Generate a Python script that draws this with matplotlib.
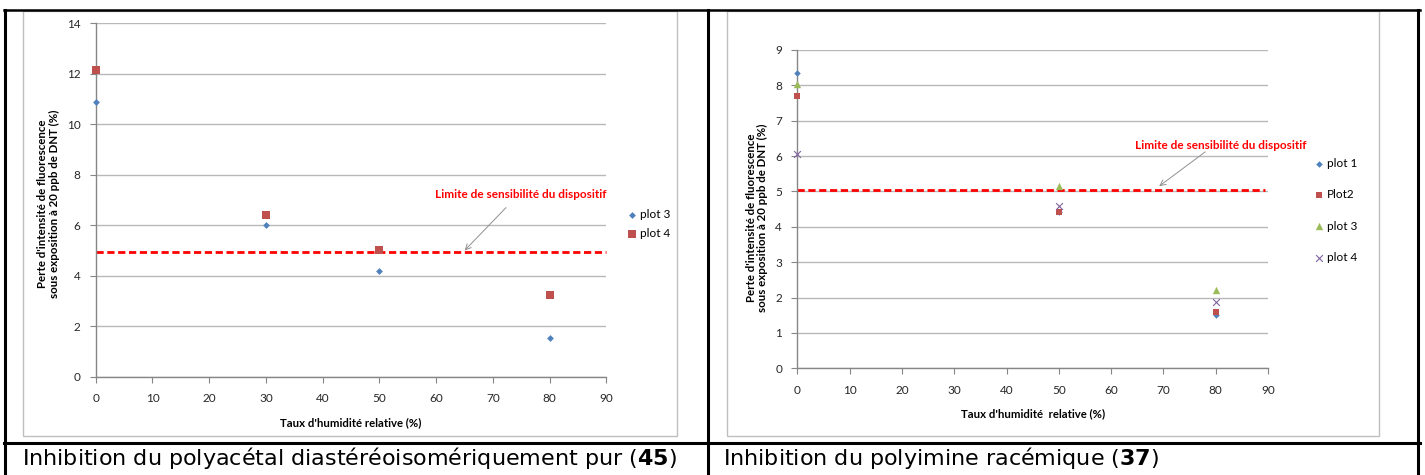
import matplotlib
matplotlib.use("Agg")
import matplotlib.pyplot as plt
from matplotlib.patches import Rectangle
from matplotlib.lines import Line2D

CAPFONT = 'DejaVu Sans'
plt.rcParams['mathtext.fontset'] = 'custom'
plt.rcParams['mathtext.rm'] = CAPFONT
plt.rcParams['mathtext.bf'] = CAPFONT + ':bold'

# ---------------- data ----------------
humidity_left = [0, 30, 50, 80]
left_plot3 = [10.9, 6.0, 4.17, 1.53]
left_plot4 = [12.15, 6.4, 5.0, 3.25]
left_limit_x = [0, 90]
left_limit_y = [4.95, 4.95]

humidity_right = [0, 50, 80]
right_plot1 = [8.35, 4.42, 1.51]
right_plot2 = [7.7, 4.42, 1.58]
right_plot3 = [8.03, 5.16, 2.2]
right_plot4 = [6.05, 4.58, 1.88]
right_limit_x = [0, 89.4]
right_limit_y = [5.03, 5.03]

left_yticks = [0, 2, 4, 6, 8, 10, 12, 14]
right_yticks = [0, 1, 2, 3, 4, 5, 6, 7, 8, 9]
xticks = [0, 10, 20, 30, 40, 50, 60, 70, 80, 90]

ylabel_left = "Perte d'intensité de fluorescence\nsous exposition à 20 ppb de DNT (%)"
ylabel_right = "Perte d'intensité de fluorescence\nsous exposition à 20 ppb de DNT (%)"
xlabel_left = "Taux d'humidité relative (%)"
xlabel_right = "Taux d'humidité  relative (%)"
limit_text = "Limite de sensibilité du dispositif"
caption_left = r"Inhibition du polyacétal diastéréoisomériquement pur ($\mathbf{45}$)"
caption_right = r"Inhibition du polyimine racémique ($\mathbf{37}$)"

# ---------------- figure ----------------
W, H = 1425, 475
fig = plt.figure(figsize=(W / 100, H / 100), dpi=100)
fig.patch.set_facecolor('white')

def fx(px):
    return px / W

def fy(py):
    return 1 - py / H

FONT = 'Lato'
TICKC = '#262626'
BLUE = '#4F81BD'
RED = '#C0504D'
GREEN = '#9BBB59'
PURPLE = '#8064A2'

# chart area frames (grey)
for (x0, x1) in [(23.3, 676.7), (726.7, 1379)]:
    fig.patches.append(Rectangle((fx(x0), fy(435.7)), fx(x1) - fx(x0), fy(10.7) - fy(435.7),
                                 transform=fig.transFigure, fill=False,
                                 edgecolor='#bfbfbf', lw=1.0, zorder=1))

# table borders (black)
def vline(x, y0, y1, lw=2.2):
    fig.lines.append(Line2D([fx(x), fx(x)], [fy(y0), fy(y1)], transform=fig.transFigure,
                            color='black', lw=lw, zorder=5))

def hline(y, x0, x1, lw=2.2):
    fig.lines.append(Line2D([fx(x0), fx(x1)], [fy(y), fy(y)], transform=fig.transFigure,
                            color='black', lw=lw, zorder=5))

vline(4.6, 9.5, 476)
vline(708, 9.5, 476)
vline(1418, 9.5, 476)
hline(10.2, 3.5, 1419.5, lw=1.8)
hline(443, 3.5, 1419.5)


def style_axes(ax, ymax, yticks):
    ax.set_xlim(0, 90)
    ax.set_ylim(0, ymax)
    ax.set_xticks(xticks)
    ax.set_yticks(yticks)
    ax.yaxis.grid(True, color='#b8b8b8', lw=1.0)
    ax.set_axisbelow(True)
    for s in ['top', 'right']:
        ax.spines[s].set_visible(False)
    for s in ['left', 'bottom']:
        ax.spines[s].set_color('#868686')
        ax.spines[s].set_linewidth(1.0)
    ax.tick_params(axis='both', direction='out', length=4, width=0.8, color='#868686',
                   labelsize=8.5, labelcolor=TICKC)
    ax.tick_params(axis='x', pad=8)
    ax.tick_params(axis='y', pad=7)
    for lab in ax.get_xticklabels() + ax.get_yticklabels():
        lab.set_fontfamily(FONT)
    ax.patch.set_alpha(0)


# ---------------- left chart ----------------
axL = fig.add_axes([fx(95.7), fy(376.7), fx(606.5) - fx(95.7), fy(23.3) - fy(376.7)])
style_axes(axL, 14, left_yticks)
axL.plot(left_limit_x, left_limit_y, color='#FF0000', lw=2.0, ls=(0, (2.6, 1.3)), zorder=2,
         clip_on=False)
sL3 = axL.scatter(humidity_left, left_plot3, marker='D', s=12, color=BLUE, zorder=3,
                  clip_on=False, linewidths=0)
sL4 = axL.scatter(humidity_left, left_plot4, marker='s', s=26, color=RED, zorder=4,
                  clip_on=False, linewidths=0)
axL.text(90, 7.2, limit_text, color='#FF0000', fontweight='bold', fontsize=8.5,
         family=FONT, ha='right', va='center')
axL.annotate('', xy=(65, 5.0), xytext=(72.3, 6.7),
             arrowprops=dict(arrowstyle='->', color='#909090', lw=0.7, shrinkA=0, shrinkB=0))
axL.set_xlabel(xlabel_left, fontsize=8.2, fontweight='bold', family=FONT, color='black',
               labelpad=9)
fig.text(fx(48.5), fy(204), ylabel_left, rotation=90, ha='center', va='center', fontsize=8.3,
         fontweight='bold', family=FONT, linespacing=1.1, multialignment='center')
fig.legend(handles=[sL3, sL4], labels=['plot 3', 'plot 4'],
           loc='center left', bbox_to_anchor=(fx(627), fy(224)),
           frameon=False, handlelength=0.9, handletextpad=0.2,
           labelspacing=0.72, borderpad=0, borderaxespad=0,
           prop={'family': FONT, 'size': 8.5})

# ---------------- right chart ----------------
axR = fig.add_axes([fx(797.3), fy(368.3), fx(1268) - fx(797.3), fy(50) - fy(368.3)])
style_axes(axR, 9, right_yticks)
axR.plot(right_limit_x, right_limit_y, color='#FF0000', lw=2.0, ls=(0, (2.6, 1.3)), zorder=2,
         clip_on=False)
h1 = axR.scatter(humidity_right, right_plot1, marker='D', s=11, color=BLUE, zorder=3,
                 clip_on=False, linewidths=0)
h2 = axR.scatter(humidity_right, right_plot2, marker='s', s=25, color=RED, zorder=4,
                 clip_on=False, linewidths=0)
h3 = axR.scatter(humidity_right, right_plot3, marker='^', s=28, color=GREEN, zorder=5,
                 clip_on=False, linewidths=0)
h4 = axR.scatter(humidity_right, right_plot4, marker='x', s=24, color=PURPLE, zorder=6,
                 clip_on=False, linewidths=0.8)
axR.text(97.4, 6.29, limit_text, color='#FF0000', fontweight='bold', fontsize=8.5,
         family=FONT, ha='right', va='center')
axR.annotate('', xy=(69.2, 5.15), xytext=(78.0, 6.12),
             arrowprops=dict(arrowstyle='->', color='#909090', lw=0.7, shrinkA=0, shrinkB=0))
axR.set_xlabel(xlabel_right, fontsize=8.2, fontweight='bold', family=FONT, color='black',
               labelpad=9)
fig.text(fx(757), fy(218), ylabel_right, rotation=90, ha='center', va='center', fontsize=8.3,
         fontweight='bold', family=FONT, linespacing=1.1, multialignment='center')
fig.legend(handles=[h1, h2, h3, h4], labels=['plot 1', 'Plot2', 'plot 3', 'plot 4'],
           loc='center left', bbox_to_anchor=(fx(1314), fy(210.5)),
           frameon=False, handlelength=0.9, handletextpad=0.2,
           labelspacing=1.71, borderpad=0, borderaxespad=0,
           prop={'family': FONT, 'size': 8.5})

# ---------------- captions ----------------
fig.text(fx(21.5), fy(465), caption_left, fontsize=16, family=CAPFONT,
         ha='left', va='baseline', color='black')
fig.text(fx(723.3), fy(465), caption_right, fontsize=16, family=CAPFONT,
         ha='left', va='baseline', color='black')

fig.savefig('out.png', dpi=100, facecolor='white')
